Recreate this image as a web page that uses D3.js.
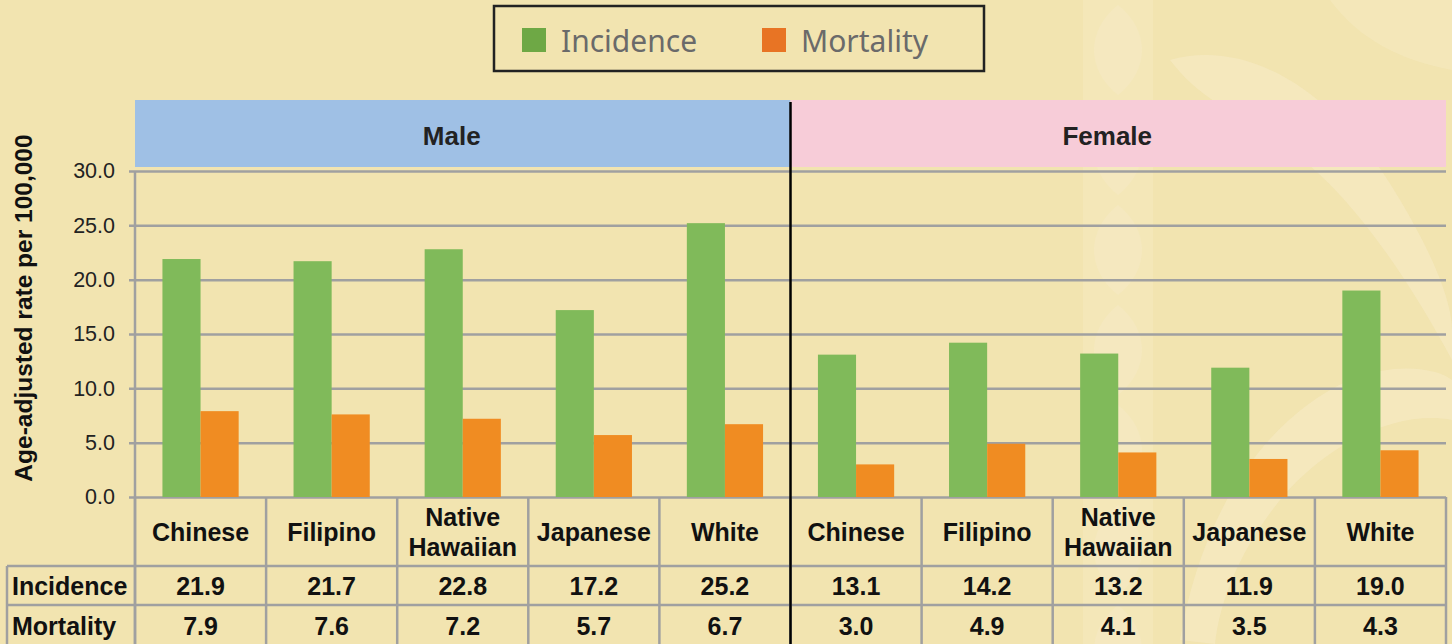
<!DOCTYPE html>
<html>
<head>
<meta charset="utf-8">
<script src="https://cdn.jsdelivr.net/npm/d3@7"></script>
<style>
  html, body { margin: 0; padding: 0; background: #F2E4B0; }
  svg { display: block; }
</style>
</head>
<body>
<svg id="chart" width="1452" height="644"></svg>
<script>
// data
var sexes = ["Male", "Female"];
var groups = ["Chinese", "Filipino", "Native Hawaiian", "Japanese", "White"];
var series = ["Incidence", "Mortality"];
var incidence = [21.9, 21.7, 22.8, 17.2, 25.2, 13.1, 14.2, 13.2, 11.9, 19.0];
var mortality = [7.9, 7.6, 7.2, 5.7, 6.7, 3.0, 4.9, 4.1, 3.5, 4.3];
var yTicks = [0, 5, 10, 15, 20, 25, 30];

var colors = { Incidence: "#80BA5A", Mortality: "#F08C22" };
var bandColors = { Male: "#9FC0E5", Female: "#F7CCD8" };
var gridColor = "#A0A0A0";
var bold = "'Liberation Sans', Arial, sans-serif";

var width = 1452, height = 644;
var left = 135, right = 1446;
var plotTop = 171, plotBottom = 497;
var bandTop = 100, bandBottom = 167;
var catBottom = 566, row1Bottom = 605;

var svg = d3.select("#chart");

// build one row per column
var cols = [];
sexes.forEach(function(s, si) {
    groups.forEach(function(g, gi) {
        var idx = si * groups.length + gi;
        cols.push({ key: s + "|" + g, sex: s, group: g, Incidence: incidence[idx], Mortality: mortality[idx] });
    });
});

var x0 = d3.scaleBand()
    .domain(cols.map(function(d) { return d.key; }))
    .range([left, right])
    .paddingInner(0)
    .paddingOuter(0);

var x1 = d3.scaleBand()
    .domain(series)
    .range([0, x0.bandwidth()])
    .paddingInner(0)
    .paddingOuter(0.72);

var y = d3.scaleLinear()
    .domain([0, 30])
    .range([plotBottom, plotTop]);

// faint background pattern on the right side
var deco = svg.append("g").attr("fill", "#F5E9C0");
deco.append("rect").attr("x", 1083).attr("y", 0).attr("width", 70).attr("height", height).attr("opacity", 0.5);
for (var k = 0; k < 7; k++) {
    deco.append("path")
        .attr("d", "M1118," + (k * 100 + 5) + " C1150," + (k * 100 + 30) + " 1150," + (k * 100 + 70) + " 1118," + (k * 100 + 95) +
                   " C1086," + (k * 100 + 70) + " 1086," + (k * 100 + 30) + " 1118," + (k * 100 + 5) + " Z")
        .attr("opacity", 0.8);
}
deco.append("path").attr("opacity", 0.8)
    .attr("d", "M1170,60 C1240,40 1330,80 1400,200 C1430,250 1452,300 1452,330 L1452,360 C1420,300 1360,200 1290,150 C1240,115 1200,100 1170,60 Z");
deco.append("path").attr("opacity", 0.8)
    .attr("d", "M1180,640 C1200,520 1260,420 1350,380 C1400,360 1440,370 1452,380 L1452,420 C1400,410 1330,440 1280,500 C1240,550 1220,600 1215,644 Z");
deco.append("path").attr("opacity", 0.6)
    .attr("d", "M1330,0 C1360,40 1400,60 1452,70 L1452,0 Z");

// legend
var legend = svg.append("g");
legend.append("rect")
    .attr("x", 494).attr("y", 6).attr("width", 490).attr("height", 65)
    .attr("fill", "none").attr("stroke", "#222").attr("stroke-width", 2.5);
var legX = [522, 762];
series.forEach(function(s, i) {
    legend.append("rect")
        .attr("x", legX[i]).attr("y", 28).attr("width", 24).attr("height", 24)
        .attr("fill", s == "Incidence" ? "#6EA845" : "#E87424");
    legend.append("text")
        .attr("x", legX[i] + 39).attr("y", 52)
        .attr("font-family", "'Noto Sans', sans-serif")
        .attr("font-size", 30)
        .attr("fill", "#6A6A6A")
        .text(s);
});

// sex header bands
var sexX = d3.scaleBand().domain(sexes).range([left, right]);
svg.append("g").selectAll("rect")
    .data(sexes)
    .join("rect")
    .attr("x", function(d) { return sexX(d); })
    .attr("y", bandTop)
    .attr("width", sexX.bandwidth())
    .attr("height", bandBottom - bandTop)
    .attr("fill", function(d) { return bandColors[d]; });
svg.append("g").selectAll("text")
    .data(sexes)
    .join("text")
    .attr("x", function(d) { return sexX(d) + sexX.bandwidth() / 2 - 11; })
    .attr("y", 145)
    .attr("text-anchor", "middle")
    .attr("font-family", bold)
    .attr("font-weight", "bold")
    .attr("font-size", 26)
    .attr("fill", "#222")
    .text(function(d) { return d; });

// gridlines + y axis
var yAxis = d3.axisLeft(y)
    .tickValues(yTicks)
    .tickSize(-(right - left))
    .tickPadding(20)
    .tickFormat(d3.format(".1f"));
var ya = svg.append("g")
    .attr("transform", "translate(" + left + ",0)")
    .call(yAxis);
ya.select(".domain").remove();
ya.selectAll(".tick line")
    .attr("x1", -6)
    .attr("stroke", gridColor)
    .attr("stroke-width", 2.5);
ya.selectAll(".tick text")
    .attr("font-family", "'Liberation Sans', Arial, sans-serif")
    .attr("font-size", 21.5)
    .attr("fill", "#222");

svg.append("line")
    .attr("x1", left).attr("x2", left)
    .attr("y1", plotTop).attr("y2", height)
    .attr("stroke", gridColor).attr("stroke-width", 2.5);

// y title
svg.append("text")
    .attr("transform", "translate(32,308) rotate(-90)")
    .attr("text-anchor", "middle")
    .attr("font-family", bold)
    .attr("font-weight", "bold")
    .attr("font-size", 24.5)
    .attr("fill", "#111")
    .text("Age-adjusted rate per 100,000");

// bars
var colG = svg.append("g").selectAll("g")
    .data(cols)
    .join("g")
    .attr("transform", function(d) { return "translate(" + x0(d.key) + ",0)"; });
colG.selectAll("rect")
    .data(function(d) { return series.map(function(s) { return { s: s, v: d[s] }; }); })
    .join("rect")
    .attr("x", function(d) { return x1(d.s); })
    .attr("y", function(d) { return y(d.v); })
    .attr("width", x1.bandwidth())
    .attr("height", function(d) { return y(0) - y(d.v); })
    .attr("fill", function(d) { return colors[d.s]; });

// table under the chart
var tbl = svg.append("g").attr("stroke", gridColor).attr("stroke-width", 2.5);
var vx = cols.map(function(d) { return x0(d.key); }).concat([right]);
tbl.selectAll(".vline")
    .data(vx)
    .join("line")
    .attr("x1", function(d) { return d; }).attr("x2", function(d) { return d; })
    .attr("y1", plotBottom).attr("y2", height);
tbl.append("line").attr("x1", 7).attr("x2", 7).attr("y1", catBottom).attr("y2", height);
[catBottom, row1Bottom].forEach(function(yy) {
    tbl.append("line").attr("x1", 7).attr("x2", right).attr("y1", yy).attr("y2", yy);
});

var txt = svg.append("g")
    .attr("font-family", bold)
    .attr("font-weight", "bold")
    .attr("font-size", 25)
    .attr("fill", "#111")
    .attr("text-anchor", "middle");

cols.forEach(function(d) {
    var cx = x0(d.key) + x0.bandwidth() / 2;
    var words = d.group.split(" ");
    var t = txt.append("text").attr("x", cx);
    if (words.length == 1) {
        t.attr("y", 541).text(d.group);
    } else {
        t.append("tspan").attr("x", cx).attr("y", 526).text(words[0]);
        t.append("tspan").attr("x", cx).attr("y", 556).text(words[1]);
    }
    txt.append("text").attr("x", cx).attr("y", 595).text(d3.format(".1f")(d.Incidence));
    txt.append("text").attr("x", cx).attr("y", 635).text(d3.format(".1f")(d.Mortality));
});
series.forEach(function(s, i) {
    txt.append("text")
        .attr("x", 12)
        .attr("y", i == 0 ? 595 : 635)
        .attr("text-anchor", "start")
        .text(s);
});

// divider between male and female
svg.append("line")
    .attr("x1", sexX("Female")).attr("x2", sexX("Female"))
    .attr("y1", 102).attr("y2", height)
    .attr("stroke", "#000").attr("stroke-width", 2.5);
</script>
</body>
</html>
